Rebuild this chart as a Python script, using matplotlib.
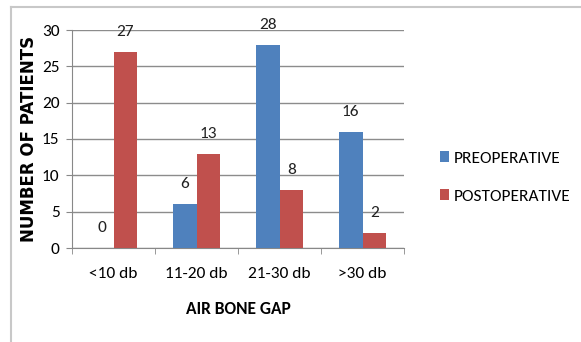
import matplotlib.pyplot as plt
import numpy as np
from matplotlib.lines import Line2D

plt.rcParams['font.family'] = ['Carlito', 'DejaVu Sans']

categories = ['<10 db', '11-20 db', '21-30 db', '>30 db']
preoperative = [0, 6, 28, 16]
postoperative = [27, 13, 8, 2]
series_names = ['PREOPERATIVE', 'POSTOPERATIVE']

blue = '#4F81BD'
red = '#C0504D'

fig = plt.figure(figsize=(5.81, 3.42), dpi=100)
ax = fig.add_axes([72 / 581, 1 - 248 / 342, 332 / 581, 218 / 342])

x = np.arange(len(categories))
w = 0.285
b1 = ax.bar(x - w / 2, preoperative, w, color=blue, zorder=3, label=series_names[0])
b2 = ax.bar(x + w / 2, postoperative, w, color=red, zorder=3, label=series_names[1])

for bars, vals in ((b1, preoperative), (b2, postoperative)):
    for rect, v in zip(bars, vals):
        ax.annotate(str(v), (rect.get_x() + rect.get_width() / 2, v),
                    xytext=(0, 13), textcoords='offset pixels',
                    ha='center', va='bottom', fontsize=12.5, color='#222222')

ax.set_xlim(-0.5, len(categories) - 0.5)
ax.set_ylim(0, 30)
ax.set_yticks(range(0, 31, 5))
ax.set_xticks(x)
ax.set_xticklabels(categories)
ax.set_xticks(np.arange(-0.5, len(categories), 1), minor=True)
ax.tick_params(axis='x', which='major', length=0, pad=14, labelsize=12.5)
ax.tick_params(axis='x', which='minor', length=4, color='#888888')
ax.tick_params(axis='y', length=4, color='#888888', labelsize=12.5, pad=5)
ax.grid(axis='y', color='#8c8c8c', linewidth=1, zorder=0)
for s in ('top', 'right'):
    ax.spines[s].set_visible(False)
for s in ('left', 'bottom'):
    ax.spines[s].set_color('#888888')

ax.set_xlabel('AIR BONE GAP', fontsize=12.5, fontweight='bold', labelpad=14)
ax.set_ylabel('NUMBER OF PATIENTS', fontsize=12, fontweight='bold',
              family='DejaVu Sans', labelpad=3)

ax.legend(loc='upper left', bbox_to_anchor=(1.06, 0.515), frameon=False,
          handlelength=0.55, handleheight=0.55, handletextpad=0.25,
          labelspacing=1.35, fontsize=12.5)

# chart area frame
fig.add_artist(Line2D([11 / 581, 1], [1 - 7 / 342, 1 - 7 / 342],
                      transform=fig.transFigure, color='#c8c8c8', linewidth=1.5))
fig.add_artist(Line2D([11 / 581, 11 / 581], [0, 1 - 7 / 342],
                      transform=fig.transFigure, color='#c8c8c8', linewidth=1.5))

fig.savefig('out.png', dpi=100)
